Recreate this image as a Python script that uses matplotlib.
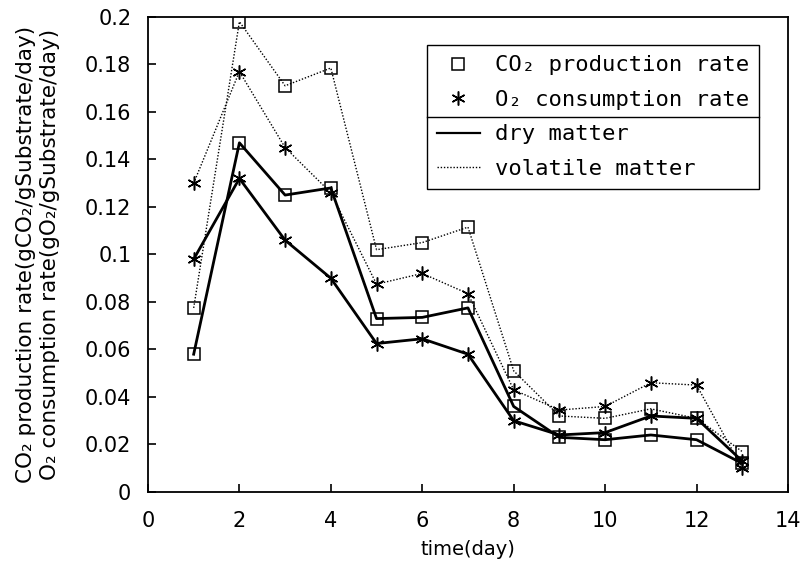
import matplotlib
matplotlib.use("Agg")
import matplotlib.pyplot as plt
from matplotlib.lines import Line2D

days = [1, 2, 3, 4, 5, 6, 7, 8, 9, 10, 11, 12, 13]
co2_dry = [0.058, 0.147, 0.125, 0.128, 0.073, 0.0735, 0.0775, 0.036, 0.023, 0.022, 0.024, 0.022, 0.012]
co2_vol = [0.0775, 0.198, 0.171, 0.1785, 0.102, 0.105, 0.1115, 0.051, 0.032, 0.031, 0.035, 0.031, 0.017]
o2_dry = [0.098, 0.132, 0.106, 0.090, 0.0625, 0.0645, 0.058, 0.030, 0.024, 0.025, 0.032, 0.031, 0.013]
o2_vol = [0.130, 0.177, 0.145, 0.126, 0.0875, 0.092, 0.0835, 0.043, 0.0345, 0.036, 0.046, 0.045, 0.010]

xticks = [0, 2, 4, 6, 8, 10, 12, 14]
yticks = [0, 0.02, 0.04, 0.06, 0.08, 0.1, 0.12, 0.14, 0.16, 0.18, 0.2]
ytick_labels = ["0", "0.02", "0.04", "0.06", "0.08", "0.1", "0.12", "0.14", "0.16", "0.18", "0.2"]

legend_labels = ["CO\u2082 production rate", "O\u2082 consumption rate", "dry matter", "volatile matter"]
xlabel = "time(day)"
ylabel = ("CO\u2082 production rate(gCO\u2082/gSubstrate/day)\n"
          "O\u2082 consumption rate(gO\u2082/gSubstrate/day)")

fig = plt.figure(figsize=(8.02, 5.64), dpi=100)
ax = fig.add_axes([0.1845, 0.1277, 0.798, 0.8423])

dotted = (0, (1, 1.3))
star = (6, 2, 0)
sq_kw = dict(marker="s", markersize=9, markerfacecolor="none", markeredgecolor="black", markeredgewidth=1.1)
st_kw = dict(marker=star, markersize=10, markeredgecolor="black", markeredgewidth=1.1)

ax.plot(days, co2_dry, color="black", lw=2.0, **sq_kw)
ax.plot(days, o2_dry, color="black", lw=2.0, **st_kw)
ax.plot(days, co2_vol, color="black", lw=1.0, linestyle=dotted, **sq_kw)
ax.plot(days, o2_vol, color="black", lw=1.0, linestyle=dotted, **st_kw)

ax.set_xlim(0, 14)
ax.set_ylim(0, 0.2)
ax.set_xticks(xticks)
ax.set_xticklabels([str(t) for t in xticks])
ax.set_yticks(yticks)
ax.set_yticklabels(ytick_labels)
ax.tick_params(direction="in", length=6, width=1.2, labelsize=15,
               top=False, right=False)
ax.tick_params(axis="x", pad=14)
ax.tick_params(axis="y", pad=12)
for s in ax.spines.values():
    s.set_linewidth(1.3)

ax.set_xlabel(xlabel, fontsize=14, labelpad=6)
ax.set_ylabel(ylabel, fontsize=15.5, labelpad=18, linespacing=1.25)

handles = [
    Line2D([], [], linestyle="none", **sq_kw),
    Line2D([], [], linestyle="none", **st_kw),
    Line2D([], [], color="black", lw=1.6),
    Line2D([], [], color="black", lw=1.0, linestyle=dotted),
]
leg = ax.legend(handles, legend_labels, loc="upper left", bbox_to_anchor=(0.4365, 0.94),
                frameon=True, fancybox=False, edgecolor="black", framealpha=1,
                prop={"family": "DejaVu Sans Mono", "size": 16},
                handlelength=1.9, handletextpad=0.7, borderpad=0.45, labelspacing=0.65,
                borderaxespad=0)
leg.get_frame().set_linewidth(1.0)

fig.canvas.draw()
inv = ax.transAxes.inverted()
fb = leg.get_frame().get_window_extent()
t1 = leg.get_texts()[1].get_window_extent()
t2 = leg.get_texts()[2].get_window_extent()
ymid = (t1.y0 + t2.y1) / 2
x0, y0 = inv.transform((fb.x0, ymid))
x1, _ = inv.transform((fb.x1, ymid))
ax.add_line(Line2D([x0, x1], [y0, y0], transform=ax.transAxes, color="black", lw=1.0, zorder=10))

fig.savefig("out.png", dpi=100)
